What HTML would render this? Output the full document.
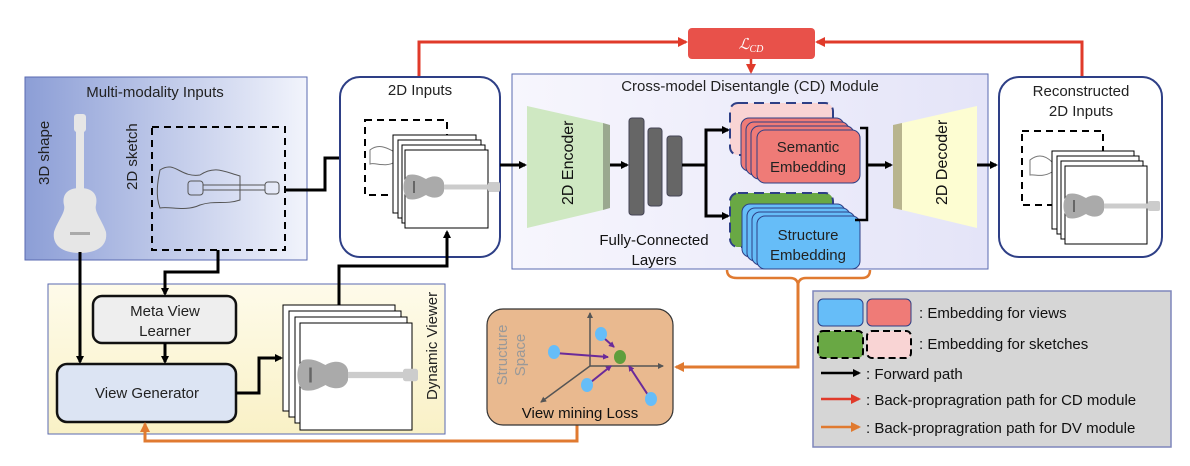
<!DOCTYPE html>
<html><head><meta charset="utf-8"><style>
html,body{margin:0;padding:0;background:#fff;}
svg{display:block;font-family:"Liberation Sans",sans-serif;}
</style></head><body>
<svg width="1190" height="466" viewBox="0 0 1190 466" xmlns="http://www.w3.org/2000/svg">
<defs>
<linearGradient id="gBlue" x1="0" x2="1" y1="0" y2="0"><stop offset="0" stop-color="#8c9ed6"/><stop offset="1" stop-color="#f2f4fc"/></linearGradient>
<linearGradient id="gYel" x1="0" x2="0" y1="0" y2="1"><stop offset="0" stop-color="#fefbea"/><stop offset="1" stop-color="#f9f1c6"/></linearGradient>
<linearGradient id="gCD" x1="0" x2="1"><stop offset="0" stop-color="#f7f6fd"/><stop offset="1" stop-color="#e4e4f8"/></linearGradient>
<marker id="ak" markerWidth="8" markerHeight="8" refX="6" refY="4" orient="auto" markerUnits="userSpaceOnUse"><path d="M0,0 L8,4 L0,8 z" fill="#000"/></marker>
<marker id="ar" markerWidth="10" markerHeight="10" refX="8" refY="5" orient="auto" markerUnits="userSpaceOnUse"><path d="M0,0 L10,5 L0,10 z" fill="#e03a2a"/></marker>
<marker id="ao" markerWidth="10" markerHeight="10" refX="8" refY="5" orient="auto" markerUnits="userSpaceOnUse"><path d="M0,0 L10,5 L0,10 z" fill="#e07a30"/></marker>
<marker id="ap" markerWidth="6" markerHeight="6" refX="5" refY="3" orient="auto" markerUnits="userSpaceOnUse"><path d="M0,0 L6,3 L0,6 z" fill="#6a2a9a"/></marker>
<marker id="ag" markerWidth="6" markerHeight="6" refX="5" refY="3" orient="auto" markerUnits="userSpaceOnUse"><path d="M0,0 L6,3 L0,6 z" fill="#555"/></marker>
<g id="hg">
<path d="M0,-12 C8,-14 14,-10 18,-8 C24,-12 34,-12 36,-4 L36,4 C34,12 24,12 18,8 C14,10 8,14 0,12 C-6,8 -6,-8 0,-12z" fill="#aaa"/>
<rect x="36" y="-2.5" width="44" height="5" fill="#ccc"/>
<rect x="80" y="-5" width="12" height="10" rx="2" fill="#ccc"/>
<rect x="5" y="-6" width="2" height="12" fill="#666"/>
</g>
</defs>

<!-- red back-prop -->
<path d="M419,77 V42 H686" fill="none" stroke="#e03a2a" stroke-width="3" marker-end="url(#ar)"/>
<path d="M1082,77 V42 H817" fill="none" stroke="#e03a2a" stroke-width="3" marker-end="url(#ar)"/>
<rect x="688" y="28" width="127" height="31" rx="4" fill="#e8514a"/>
<text x="751" y="49" text-anchor="middle" fill="#fff" font-family="Liberation Serif,serif" font-style="italic" font-size="15">ℒ<tspan font-size="10" dy="3">CD</tspan></text>
<path d="M751,59 V72" stroke="#e03a2a" stroke-width="2.5" marker-end="url(#ar)"/>

<!-- Multi-modality -->
<rect x="25" y="77" width="282" height="183" fill="url(#gBlue)" stroke="#5a6ab0" stroke-width="1"/>
<text x="155" y="97" text-anchor="middle" font-size="15" fill="#222">Multi-modality Inputs</text>
<text transform="translate(49,185) rotate(-90)" font-size="15" fill="#222">3D shape</text>
<text transform="translate(137,190) rotate(-90)" font-size="15" fill="#222">2D sketch</text>
<g fill="#e6e6e6">
<rect x="74" y="114" width="12" height="18" rx="3"/>
<rect x="76" y="130" width="8" height="65"/>
<path d="M80,188 C66,188 62,196 64,205 C66,212 58,220 54,232 C52,245 62,253 80,253 C98,253 108,245 106,232 C102,220 94,212 96,205 C98,196 94,188 80,188z"/>
</g>
<rect x="70" y="232" width="20" height="3" fill="#aaa"/>
<rect x="152" y="127" width="133" height="123" fill="none" stroke="#000" stroke-width="2" stroke-dasharray="7,5"/>
<path d="M160,170 C175,160 180,178 200,175 C215,165 225,172 240,176 L240,200 C225,205 215,200 200,205 C185,212 170,206 160,208 C155,195 158,180 160,170z" fill="none" stroke="#555"/>
<rect x="188" y="181" width="15" height="14" rx="3" fill="none" stroke="#555"/>
<path d="M203,185 H265 M203,190 H265" stroke="#555"/>
<rect x="265" y="182" width="14" height="12" rx="3" fill="none" stroke="#555"/>
<path d="M285,190 H325 V158 H363" fill="none" stroke="#000" stroke-width="3" marker-end="url(#ak)"/>

<!-- 2D Inputs -->
<rect x="340" y="77" width="160" height="180" rx="20" fill="#fff" stroke="#2e3f86" stroke-width="2"/>
<text x="420" y="95" text-anchor="middle" font-size="15" fill="#222">2D Inputs</text>
<rect x="365" y="120" width="82" height="75" fill="none" stroke="#000" stroke-width="2" stroke-dasharray="7,5"/>
<path d="M370,150 C380,142 390,150 395,152 L395,162 C385,168 375,162 370,164z" fill="none" stroke="#777"/>
<rect x="393" y="135" width="83" height="78" fill="#fff" stroke="#000"/>
<rect x="398" y="140" width="83" height="78" fill="#fff" stroke="#000"/>
<rect x="402" y="145" width="83" height="78" fill="#fff" stroke="#000"/>
<rect x="405" y="150" width="83" height="78" fill="#fff" stroke="#000"/>
<use href="#hg" x="408" y="187"/>

<!-- DV box -->
<rect x="48" y="284" width="397" height="150" fill="url(#gYel)" stroke="#5a6ab0" stroke-width="1"/>
<text transform="translate(437,400) rotate(-90)" font-size="15" fill="#222">Dynamic Viewer</text>
<rect x="93" y="296" width="143" height="47" rx="9" fill="#eeeeee" stroke="#111" stroke-width="2.5"/>
<text x="165" y="316" text-anchor="middle" font-size="15" fill="#222">Meta View</text>
<text x="165" y="336" text-anchor="middle" font-size="15" fill="#222">Learner</text>
<rect x="57" y="364" width="179" height="58" rx="10" fill="#dce4f3" stroke="#111" stroke-width="2.5"/>
<text x="147" y="398" text-anchor="middle" font-size="15" fill="#222">View Generator</text>
<path d="M80,252 V362" stroke="#000" stroke-width="3" marker-end="url(#ak)"/>
<path d="M218,250 V272 H165 V294" fill="none" stroke="#000" stroke-width="3" marker-end="url(#ak)"/>
<path d="M165,343 V362" stroke="#000" stroke-width="3" marker-end="url(#ak)"/>
<path d="M236,393 H259 V358 H281" fill="none" stroke="#000" stroke-width="3" marker-end="url(#ak)"/>
<rect x="283" y="305" width="112" height="106" fill="#fff" stroke="#000"/>
<rect x="289" y="311" width="112" height="106" fill="#fff" stroke="#000"/>
<rect x="295" y="317" width="112" height="106" fill="#fff" stroke="#000"/>
<rect x="300" y="323" width="112" height="107" fill="#fff" stroke="#000"/>
<use href="#hg" transform="translate(303,375) scale(1.25)"/>
<path d="M339,305 V266 H447 V232" fill="none" stroke="#000" stroke-width="3" marker-end="url(#ak)"/>

<!-- CD module -->
<rect x="512" y="74" width="476" height="195" fill="url(#gCD)" stroke="#5a6ab0" stroke-width="1"/>
<text x="750" y="91" text-anchor="middle" font-size="15" fill="#222">Cross-model Disentangle (CD) Module</text>
<path d="M500,165 H525" stroke="#000" stroke-width="3" marker-end="url(#ak)"/>
<path d="M527,106 L603,123 L603,210 L527,228z" fill="#cfe8c2"/>
<path d="M603,123 L610,125 L610,208 L603,210z" fill="#9aa88f"/>
<text transform="translate(573,205) rotate(-90)" font-size="16" fill="#111">2D Encoder</text>
<path d="M610,165 H627" stroke="#000" stroke-width="3" marker-end="url(#ak)"/>
<rect x="629" y="118" width="15" height="97" rx="3" fill="#666" stroke="#445"/>
<rect x="648" y="128" width="14" height="78" rx="3" fill="#666" stroke="#445"/>
<rect x="667" y="136" width="15" height="60" rx="3" fill="#666" stroke="#445"/>
<text x="654" y="245" text-anchor="middle" font-size="15" fill="#111">Fully-Connected</text>
<text x="654" y="265" text-anchor="middle" font-size="15" fill="#111">Layers</text>
<path d="M682,165 H706 V130 H728" fill="none" stroke="#000" stroke-width="3" marker-end="url(#ak)"/>
<path d="M706,165 V216 H728" fill="none" stroke="#000" stroke-width="3" marker-end="url(#ak)"/>
<rect x="730" y="103" width="103" height="52" rx="8" fill="#f9d4d4" stroke="#2e3f86" stroke-width="2" stroke-dasharray="10,6"/>
<g stroke="#2e3f86" stroke-width="1" fill="#ef7b77">
<rect x="741" y="118" width="103" height="53" rx="8"/>
<rect x="746" y="122" width="103" height="53" rx="8"/>
<rect x="751" y="126" width="103" height="53" rx="8"/>
<rect x="757" y="130" width="103" height="53" rx="8"/>
</g>
<text x="808" y="152" text-anchor="middle" font-size="15" fill="#222">Semantic</text>
<text x="808" y="172" text-anchor="middle" font-size="15" fill="#222">Embedding</text>
<rect x="730" y="193" width="103" height="54" rx="8" fill="#69a844" stroke="#2e3f86" stroke-width="2" stroke-dasharray="10,6"/>
<g stroke="#2e3f86" stroke-width="1" fill="#66bdf8">
<rect x="742" y="204" width="103" height="53" rx="8"/>
<rect x="747" y="208" width="103" height="53" rx="8"/>
<rect x="752" y="212" width="103" height="53" rx="8"/>
<rect x="757" y="216" width="103" height="53" rx="8"/>
</g>
<text x="808" y="240" text-anchor="middle" font-size="15" fill="#222">Structure</text>
<text x="808" y="260" text-anchor="middle" font-size="15" fill="#222">Embedding</text>
<path d="M860,128 H867 V220 H855" fill="none" stroke="#000" stroke-width="2.5"/>
<path d="M867,165 H891" stroke="#000" stroke-width="3" marker-end="url(#ak)"/>
<path d="M893,125 L902,123 L902,210 L893,208z" fill="#b8b48e"/>
<path d="M902,123 L977,106 L977,228 L902,210z" fill="#fdfdd2"/>
<text transform="translate(947,205) rotate(-90)" font-size="16" fill="#111">2D Decoder</text>
<path d="M977,165 H996" stroke="#000" stroke-width="3" marker-end="url(#ak)"/>

<!-- Reconstructed -->
<rect x="999" y="77" width="163" height="180" rx="20" fill="#fff" stroke="#2e3f86" stroke-width="2"/>
<text x="1081" y="96" text-anchor="middle" font-size="15" fill="#222">Reconstructed</text>
<text x="1081" y="116" text-anchor="middle" font-size="15" fill="#222">2D Inputs</text>
<rect x="1022" y="131" width="81" height="74" fill="none" stroke="#000" stroke-width="2" stroke-dasharray="7,5"/>
<path d="M1030,160 C1040,152 1048,158 1052,162 L1052,172 C1042,178 1035,174 1030,175z" fill="none" stroke="#777"/>
<rect x="1052" y="151" width="82" height="78" fill="#fff" stroke="#000"/>
<rect x="1057" y="156" width="82" height="78" fill="#fff" stroke="#000"/>
<rect x="1061" y="161" width="82" height="78" fill="#fff" stroke="#000"/>
<rect x="1065" y="166" width="82" height="78" fill="#fff" stroke="#000"/>
<use href="#hg" x="1068" y="206"/>

<!-- orange -->
<path d="M727,270 Q727,278 737,278 H790 Q798,278 798,286 Q798,278 806,278 H862 Q870,278 870,270" fill="none" stroke="#e07a30" stroke-width="2.5"/>
<path d="M798,282 V367 H676" fill="none" stroke="#e07a30" stroke-width="3" marker-end="url(#ao)"/>
<path d="M577,425 V441 H145 V424" fill="none" stroke="#e07a30" stroke-width="3" marker-end="url(#ao)"/>

<!-- structure space -->
<rect x="487" y="309" width="186" height="116" rx="16" fill="#e9b98f" stroke="#333" stroke-width="1.2"/>
<text transform="translate(507,385) rotate(-90)" font-size="15" fill="#999" text-anchor="middle" x="30">Structure</text>
<text transform="translate(525,385) rotate(-90)" font-size="15" fill="#999" text-anchor="middle" x="30">Space</text>
<path d="M590,366 V313" stroke="#555" stroke-width="1.5" marker-end="url(#ag)"/>
<path d="M590,366 H663" stroke="#555" stroke-width="1.5" marker-end="url(#ag)"/>
<path d="M590,366 L541,402" stroke="#555" stroke-width="1.5" marker-end="url(#ag)"/>
<g stroke="#6a2a9a" stroke-width="2">
<path d="M555,353 L608,357" marker-end="url(#ap)"/>
<path d="M605,339 L614,347" marker-end="url(#ap)"/>
<path d="M591,382 L611,366" marker-end="url(#ap)"/>
<path d="M648,395 L629,366" marker-end="url(#ap)"/>
</g>
<g fill="#66bdf8">
<ellipse cx="554" cy="352" rx="6" ry="7"/>
<ellipse cx="601" cy="334" rx="6" ry="7"/>
<ellipse cx="587" cy="385" rx="6" ry="7"/>
<ellipse cx="651" cy="399" rx="6" ry="7"/>
</g>
<ellipse cx="620" cy="357" rx="6" ry="7" fill="#5f9e3c"/>
<text x="580" y="418" text-anchor="middle" font-size="15" fill="#111">View mining Loss</text>

<!-- legend -->
<rect x="813" y="291" width="358" height="156" fill="#d6d6d6" stroke="#7f86bb" stroke-width="1.5"/>
<rect x="818" y="299" width="45" height="27" rx="5" fill="#66bdf8" stroke="#2e3f86"/>
<rect x="867" y="299" width="44" height="27" rx="5" fill="#ef7b77" stroke="#2e3f86"/>
<rect x="818" y="331" width="45" height="27" rx="5" fill="#69a844" stroke="#000" stroke-width="2" stroke-dasharray="7,4"/>
<rect x="867" y="331" width="44" height="27" rx="5" fill="#f9d4d4" stroke="#000" stroke-width="2" stroke-dasharray="7,4"/>
<text x="919" y="318" font-size="15" fill="#111">: Embedding for views</text>
<text x="919" y="349" font-size="15" fill="#111">: Embedding for sketches</text>
<path d="M821,373 H859" stroke="#000" stroke-width="2.5" marker-end="url(#ak)"/>
<path d="M821,399 H859" stroke="#e03a2a" stroke-width="2.5" marker-end="url(#ar)"/>
<path d="M821,427 H859" stroke="#e07a30" stroke-width="2.5" marker-end="url(#ao)"/>
<text x="866" y="379" font-size="15" fill="#111">: Forward path</text>
<text x="866" y="405" font-size="15" fill="#111">: Back-propragration path for CD module</text>
<text x="866" y="433" font-size="15" fill="#111">: Back-propragration path for DV module</text>
</svg>
</body></html>
